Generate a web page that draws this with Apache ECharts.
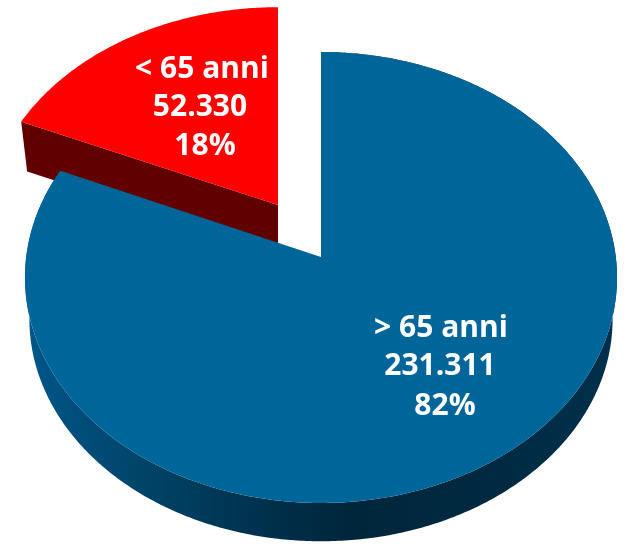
<!DOCTYPE html>
<html><head><meta charset="utf-8">
<style>html,body{margin:0;padding:0;background:#fff}#c{width:625px;height:546px}</style>
<script src="https://cdn.jsdelivr.net/npm/echarts@6/dist/echarts.min.js"></script>
</head><body><div id="c"></div>
<script>
const categories = ['< 65 anni', '> 65 anni'];
const values = [52330, 231311];

const total = values.reduce((a, b) => a + b, 0);
const fmt = v => String(v).replace(/\B(?=(\d{3})+$)/g, '.');
const TAU = Math.PI * 2;
// perspective pie: apex, horizontal/vertical scale, perspective factor
const persp = -0.0909;
const styles = [
  { ax: 278, ay: 205, kx: 0.985, ky: 0.965, depth: 48, top: '#ff0000', side: '#600000', lines: [[202, 69], [200, 107], [205, 146]] },
  { ax: 321, ay: 257, kx: 1, ky: 1, depth: 42, top: '#006699', side: null, lines: [[441, 328], [440, 366], [445, 406]] }
];
const RX = 294.8, RY = 223.6;
function proj(s, ang, dz, shrink) {
  const u = Math.sin(ang), v = -Math.cos(ang), w = 1 + persp * v;
  return [s.ax + RX * s.kx * shrink * u / w, s.ay + RY * s.ky * shrink * v / w + dz];
}
function arc(s, a0, a1, dz, shrink) {
  const n = Math.max(8, Math.ceil(Math.abs(a1 - a0) / 0.01)), pts = [];
  for (let i = 0; i <= n; i++) pts.push(proj(s, a0 + (a1 - a0) * i / n, dz, shrink));
  return pts;
}
const wallGrad = new echarts.graphic.LinearGradient(25, 0, 617, 0, [
  { offset: 0, color: '#00568a' },
  { offset: 0.2, color: '#004468' },
  { offset: 0.42, color: '#002f4a' },
  { offset: 0.55, color: '#00263b' },
  { offset: 0.8, color: '#002a42' },
  { offset: 1, color: '#00304c' }
], true);

function renderItem(params, api) {
  const i = params.dataIndex, v = api.value(1), s = styles[i];
  const start = -values[0] / total * TAU;
  let a0 = start;
  for (let j = 0; j < i; j++) a0 += values[j] / total * TAU;
  const a1 = a0 + v / total * TAU;
  const children = [];
  if (i === 0) {
    const tip = proj(s, a0, 0, 1), tipLow = proj(s, a0, s.depth, 0.977);
    const apexLow = [s.ax, s.ay + s.depth];
    children.push({ type: 'polygon', shape: { points: [tip, [s.ax, s.ay], apexLow, tipLow] }, style: { fill: s.side } });
  } else {
    const upper = arc(s, a0, a1, 0, 1), lower = arc(s, a0, a1, s.depth, 0.985).reverse();
    children.push({ type: 'polygon', shape: { points: upper.concat(lower) }, style: { fill: wallGrad } });
  }
  children.push({ type: 'polygon', shape: { points: [[s.ax, s.ay]].concat(arc(s, a0, a1, 0, 1)) }, style: { fill: s.top } });
  const texts = [categories[i], fmt(v), Math.round(v / total * 100) + '%'];
  texts.forEach((t, n) => children.push({
    type: 'text', z2: 10,
    style: { text: t, x: s.lines[n][0], y: s.lines[n][1], align: 'center', verticalAlign: 'middle',
      fill: '#fff', font: 'bold 30px "Open Sans"' }
  }));
  return { type: 'group', children };
}

const chart = echarts.init(document.getElementById('c'), null, { renderer: 'canvas' });
chart.setOption({
  animation: false,
  backgroundColor: '#fff',
  series: [{
    type: 'custom',
    coordinateSystem: 'none',
    renderItem,
    data: categories.map((c, i) => ({ name: c, value: [i, values[i]] }))
  }]
});
</script></body></html>
